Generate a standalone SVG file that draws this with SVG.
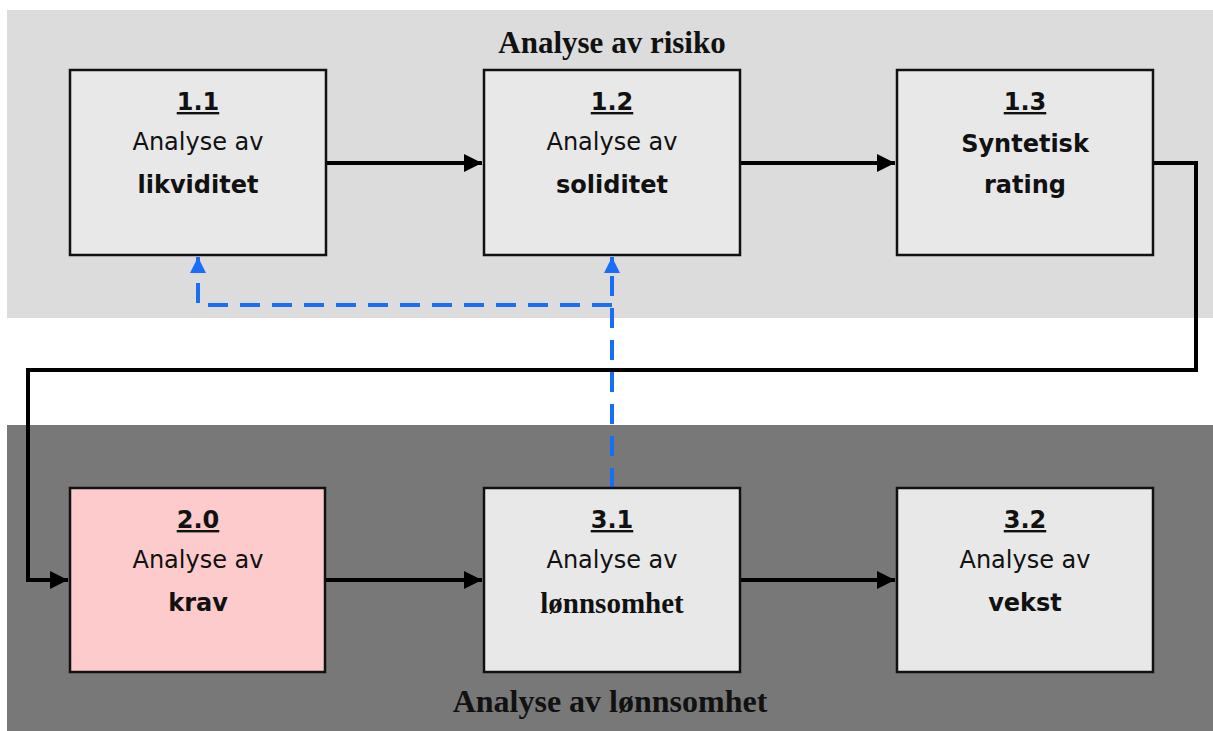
<svg xmlns="http://www.w3.org/2000/svg" width="1213" height="731" viewBox="0 0 1213 731">
<style>
.box{stroke:#111;stroke-width:2.5}
.num{font-family:"DejaVu Sans",sans-serif;font-weight:bold;font-size:24px;text-decoration:underline;fill:#111;text-anchor:middle}
.reg{font-family:"DejaVu Sans",sans-serif;font-size:24px;fill:#111;text-anchor:middle}
.bld{font-family:"DejaVu Sans",sans-serif;font-weight:bold;font-size:24px;fill:#111;text-anchor:middle}
.ser{font-family:"Liberation Serif",serif;font-weight:bold;fill:#111;text-anchor:middle}
.conn{fill:none;stroke:#000;stroke-width:4}
.dash{fill:none;stroke:#1a6ef5;stroke-width:4;stroke-dasharray:20 12}
</style>
<defs>
<marker id="ah" viewBox="0 0 10 10" refX="10" refY="5" markerWidth="4.5" markerHeight="4.5" orient="auto" markerUnits="strokeWidth">
<path d="M0,0 L10,5 L0,10 z" fill="#000"/>
</marker>
<marker id="bh" viewBox="0 0 10 10" refX="10" refY="5" markerWidth="4" markerHeight="4" orient="auto" markerUnits="strokeWidth">
<path d="M0,0 L10,5 L0,10 z" fill="#1a6ef5"/>
</marker>
</defs>
<rect x="0" y="0" width="1213" height="731" fill="#fff"/>
<rect x="7" y="10" width="1206" height="308" fill="#dcdcdc"/>
<rect x="7" y="425" width="1206" height="306" fill="#787878"/>
<text class="ser" x="612" y="53" font-size="31">Analyse av risiko</text>
<text class="ser" x="610" y="712" font-size="32">Analyse av lønnsomhet</text>
<g id="connectors">
<line class="conn" x1="326" y1="163" x2="482" y2="163" marker-end="url(#ah)"/>
<line class="conn" x1="740" y1="163" x2="895" y2="163" marker-end="url(#ah)"/>
<polyline class="conn" points="1153,163 1196,163 1196,370 28,370 28,580 68,580" marker-end="url(#ah)"/>
<line class="conn" x1="325" y1="580" x2="482" y2="580" marker-end="url(#ah)"/>
<line class="conn" x1="740" y1="580" x2="895" y2="580" marker-end="url(#ah)"/>
<polyline class="dash" points="612,488 612,305 612,257" marker-end="url(#bh)"/>
<polyline class="dash" points="612,305 198,305 198,257" marker-end="url(#bh)"/>
</g>
<g id="n11">
<rect class="box" x="70" y="70" width="256" height="185" fill="#e8e8e8"/>
<text class="num" x="198" y="110">1.1</text>
<text class="reg" x="198" y="150">Analyse av</text>
<text class="bld" x="198" y="193">likviditet</text>
</g>
<g id="n12">
<rect class="box" x="484" y="70" width="256" height="185" fill="#e8e8e8"/>
<text class="num" x="612" y="110">1.2</text>
<text class="reg" x="612" y="150">Analyse av</text>
<text class="bld" x="612" y="193">soliditet</text>
</g>
<g id="n13">
<rect class="box" x="897" y="70" width="256" height="185" fill="#e8e8e8"/>
<text class="num" x="1025" y="110">1.3</text>
<text class="bld" x="1025" y="152">Syntetisk</text>
<text class="bld" x="1025" y="193">rating</text>
</g>
<g id="n20">
<rect class="box" x="70" y="488" width="255" height="184" fill="#fdcbcb"/>
<text class="num" x="198" y="528">2.0</text>
<text class="reg" x="198" y="568">Analyse av</text>
<text class="bld" x="198" y="611">krav</text>
</g>
<g id="n31">
<rect class="box" x="484" y="488" width="256" height="184" fill="#e8e8e8"/>
<text class="num" x="612" y="528">3.1</text>
<text class="reg" x="612" y="568">Analyse av</text>
<text class="ser" x="612" y="613" font-size="29">lønnsomhet</text>
</g>
<g id="n32">
<rect class="box" x="897" y="488" width="256" height="184" fill="#e8e8e8"/>
<text class="num" x="1025" y="528">3.2</text>
<text class="reg" x="1025" y="568">Analyse av</text>
<text class="bld" x="1025" y="611">vekst</text>
</g>
</svg>
